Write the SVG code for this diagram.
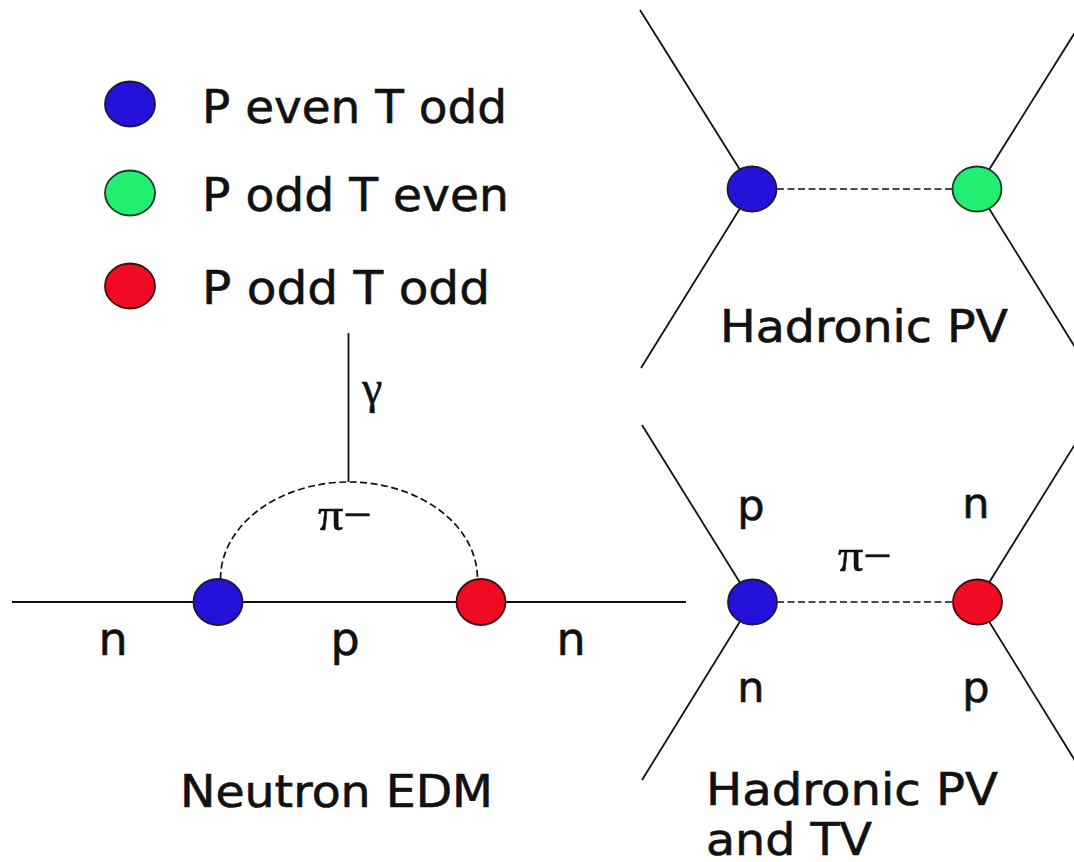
<svg xmlns="http://www.w3.org/2000/svg" width="1074" height="862" viewBox="0 0 1074 862">
  <style>
    .line { stroke: #111; stroke-width: 1.8; fill: none; }
    .dash { stroke: #111; stroke-width: 1.7; fill: none; stroke-dasharray: 7 3.5; }
    .v-blue { fill: #2412da; stroke: #1a1a3a; stroke-width: 1.8; }
    .v-green { fill: #22ee72; stroke: #1a3a22; stroke-width: 1.8; }
    .v-red { fill: #f00a22; stroke: #3a1010; stroke-width: 1.8; }
    .sans { font-family: "DejaVu Sans", "Liberation Sans", sans-serif; fill: #111; stroke: #111; stroke-width: 0.6; }
    .serif { font-family: "Liberation Serif", "DejaVu Serif", serif; fill: #111; stroke: #111; stroke-width: 0.5; }
    .legend { font-size: 47px; }
    .title { font-size: 44px; }
    .lbl { font-size: 46px; }
    .lbl-s { font-size: 43px; }
    .greek { font-size: 46px; }
  </style>

  <rect width="1074" height="862" fill="#ffffff"/>

  <!-- Legend -->
  <g id="legend">
    <ellipse class="v-blue" cx="130" cy="104" rx="25" ry="22.5"/>
    <text class="sans legend" x="202" y="123" textLength="305" lengthAdjust="spacingAndGlyphs">P even T odd</text>
    <ellipse class="v-green" cx="130" cy="193" rx="25" ry="22.5"/>
    <text class="sans legend" x="202" y="211" textLength="307" lengthAdjust="spacingAndGlyphs">P odd T even</text>
    <ellipse class="v-red" cx="130" cy="286" rx="25" ry="22.5"/>
    <text class="sans legend" x="202" y="304" textLength="288" lengthAdjust="spacingAndGlyphs">P odd T odd</text>
  </g>

  <!-- Propagators and external legs -->
  <g id="connectors">
    <!-- Hadronic PV (top right) -->
    <line class="line" x1="640" y1="10" x2="752" y2="189"/>
    <line class="line" x1="641" y1="368" x2="752" y2="189"/>
    <line class="line" x1="1089" y1="10" x2="977" y2="189"/>
    <line class="line" x1="1088" y1="368" x2="977" y2="189"/>
    <line class="dash" x1="777" y1="189" x2="952" y2="189"/>

    <!-- Neutron EDM loop -->
    <line class="line" x1="12" y1="602" x2="686" y2="602"/>
    <line class="line" x1="348.5" y1="333" x2="348.5" y2="482"/>
    <path class="dash" d="M220.5,579 A128.5,97 0 0 1 477.5,579"/>

    <!-- Hadronic PV and TV (bottom right) -->
    <line class="line" x1="642" y1="425" x2="752" y2="602"/>
    <line class="line" x1="642" y1="780" x2="752" y2="602"/>
    <line class="line" x1="1087" y1="425" x2="977" y2="602"/>
    <line class="line" x1="1087" y1="780" x2="977" y2="602"/>
    <line class="dash" x1="777" y1="602" x2="952" y2="602"/>
  </g>

  <!-- Hadronic PV vertices -->
  <g id="pv-vertex-left">
    <ellipse class="v-blue" cx="752" cy="189" rx="24.5" ry="22.5"/>
  </g>
  <g id="pv-vertex-right">
    <ellipse class="v-green" cx="977" cy="189" rx="24.5" ry="22.5"/>
  </g>
  <g id="pv-title">
    <text class="sans title" x="720" y="342" textLength="288" lengthAdjust="spacingAndGlyphs">Hadronic PV</text>
  </g>

  <!-- Neutron EDM -->
  <g id="edm-vertex-left">
    <ellipse class="v-blue" cx="218" cy="602" rx="24.5" ry="23"/>
  </g>
  <g id="edm-vertex-right">
    <ellipse class="v-red" cx="481" cy="602" rx="24.5" ry="23"/>
  </g>
  <g id="edm-labels">
    <text class="serif greek" x="362" y="403">γ</text>
    <text class="serif greek" x="318" y="530" textLength="54" lengthAdjust="spacingAndGlyphs">π−</text>
    <text class="sans lbl" x="113" y="655" text-anchor="middle">n</text>
    <text class="sans lbl" x="345" y="655" text-anchor="middle">p</text>
    <text class="sans lbl" x="571" y="655" text-anchor="middle">n</text>
    <text class="sans title" x="180" y="807" textLength="313" lengthAdjust="spacingAndGlyphs">Neutron EDM</text>
  </g>

  <!-- Hadronic PV and TV -->
  <g id="pvtv-vertex-left">
    <ellipse class="v-blue" cx="752.5" cy="602" rx="24.5" ry="22.5"/>
  </g>
  <g id="pvtv-vertex-right">
    <ellipse class="v-red" cx="977.5" cy="602" rx="24.5" ry="22.5"/>
  </g>
  <g id="pvtv-labels">
    <text class="sans lbl-s" x="751" y="520" text-anchor="middle">p</text>
    <text class="sans lbl-s" x="976" y="518" text-anchor="middle">n</text>
    <text class="serif greek" x="838" y="571" textLength="54" lengthAdjust="spacingAndGlyphs">π−</text>
    <text class="sans lbl-s" x="751" y="702" text-anchor="middle">n</text>
    <text class="sans lbl-s" x="976" y="702" text-anchor="middle">p</text>
    <text class="sans title" x="706" y="805" textLength="292" lengthAdjust="spacingAndGlyphs">Hadronic PV</text>
    <text class="sans title" x="706" y="855" textLength="166" lengthAdjust="spacingAndGlyphs">and TV</text>
  </g>
</svg>
